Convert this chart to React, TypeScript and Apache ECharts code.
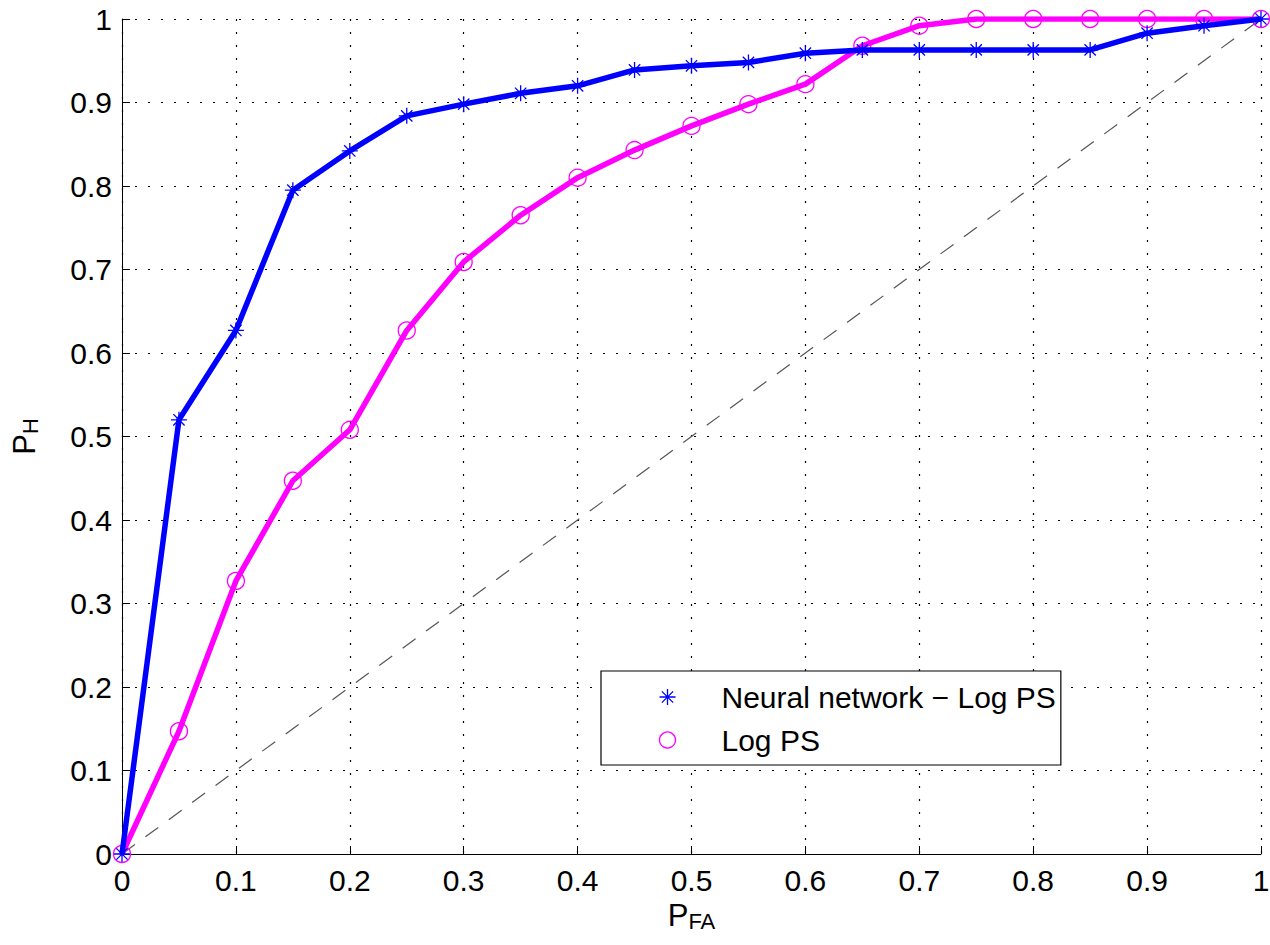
import React, { useEffect, useRef } from "react";
import * as echarts from "echarts";

const pfa = [0, 0.05, 0.1, 0.15, 0.2, 0.25, 0.3, 0.35, 0.4, 0.45, 0.5, 0.55, 0.6, 0.65, 0.7, 0.75, 0.8, 0.85, 0.9, 0.95, 1];
const nnLogPS = [0, 0.52, 0.627, 0.795, 0.842, 0.884, 0.898, 0.911, 0.92, 0.939, 0.944, 0.948, 0.959, 0.963, 0.963, 0.963, 0.963, 0.963, 0.983, 0.992, 1];
const logPS = [0, 0.147, 0.327, 0.447, 0.508, 0.627, 0.709, 0.765, 0.81, 0.843, 0.872, 0.898, 0.922, 0.968, 0.992, 1, 1, 1, 1, 1, 1];
const chanceX = [0, 1];
const chanceY = [0, 1];
const seriesNames = ["Neural network − Log PS", "Log PS"];

const ASTERISK = "path://M0,-10L0,10M-10,0L10,0M-7.07,-7.07L7.07,7.07M-7.07,7.07L7.07,-7.07";
const FONT = "'Liberation Sans', Arial, Helvetica, sans-serif";

export default function App() {
  const ref = useRef<HTMLDivElement>(null);
  useEffect(() => {
    if (!ref.current) return;
    const chart = echarts.init(ref.current, undefined, { renderer: "svg" });
    const axisCommon = {
      type: "value",
      min: 0,
      max: 1,
      interval: 0.1,
      axisLine: { show: true, onZero: false, lineStyle: { color: "#000", width: 1 } },
      axisTick: { show: true, inside: true, length: 8, lineStyle: { color: "#000" } },
      splitLine: { show: true, lineStyle: { color: "#000", width: 1.2, type: [2, 11] } },
      axisLabel: { color: "#000", fontSize: 30, fontFamily: FONT },
    };
    const nameRich = {
      p: { fontSize: 31, fontFamily: FONT, color: "#000", padding: [0, 0, 12, 0] },
      s: { fontSize: 22, fontFamily: FONT, color: "#000" },
    };
    chart.setOption({
      animation: false,
      backgroundColor: "#fff",
      grid: { left: 122, right: 9, top: 19, bottom: 91, containLabel: false, outerBoundsMode: "none" },
      xAxis: {
        ...axisCommon,
        axisLabel: { ...axisCommon.axisLabel, margin: 11 },
        name: "{p|P}{s|FA}",
        nameLocation: "middle",
        nameGap: 44,
        nameTextStyle: { rich: nameRich },
      },
      yAxis: {
        ...axisCommon,
        axisLabel: { ...axisCommon.axisLabel, margin: 10 },
        name: "{p|P}{s|H}",
        nameLocation: "middle",
        nameRotate: 90,
        nameGap: 70,
        nameTextStyle: { rich: nameRich },
      },
      legend: {
        orient: "vertical",
        left: 601,
        top: 671,
        itemWidth: 16,
        itemHeight: 16,
        itemGap: 13,
        padding: [11, 5, 10, 56],
        borderColor: "#000",
        borderWidth: 1.2,
        backgroundColor: "#fff",
        selectedMode: false,
        textStyle: { fontSize: 30, fontFamily: FONT, color: "#000", lineHeight: 30, padding: [0, 0, 0, 41] },
        data: [
          {
            name: seriesNames[0],
            icon: ASTERISK,
            itemStyle: { color: "none", borderColor: "#0000ff", borderWidth: 1.3 },
          },
          {
            name: seriesNames[1],
            icon: "circle",
            itemStyle: { color: "none", borderColor: "#ff00ff", borderWidth: 1.3 },
          },
        ],
      },
      series: [
        {
          name: "chance",
          type: "line",
          data: chanceX.map((x, i) => [x, chanceY[i]]),
          showSymbol: false,
          symbol: "none",
          lineStyle: { color: "#555", width: 1.2, type: [16, 13] },
          z: 1,
          silent: true,
        },
        {
          name: seriesNames[0],
          type: "line",
          data: pfa.map((x, i) => [x, nnLogPS[i]]),
          symbol: ASTERISK,
          symbolSize: 16,
          itemStyle: { color: "none", borderColor: "#0000ff", borderWidth: 1.3 },
          lineStyle: { color: "#0000ff", width: 5.5 },
          z: 3,
        },
        {
          name: seriesNames[1],
          type: "line",
          data: pfa.map((x, i) => [x, logPS[i]]),
          symbol: "circle",
          symbolSize: 17,
          itemStyle: { color: "none", borderColor: "#ff00ff", borderWidth: 1.3 },
          lineStyle: { color: "#ff00ff", width: 5.5 },
          z: 2,
        },
      ],
    });
    return () => chart.dispose();
  }, []);
  return (
    <div
      ref={ref}
      style={{ position: "fixed", left: 0, top: 0, width: 1270, height: 945, background: "#fff" }}
    />
  );
}
